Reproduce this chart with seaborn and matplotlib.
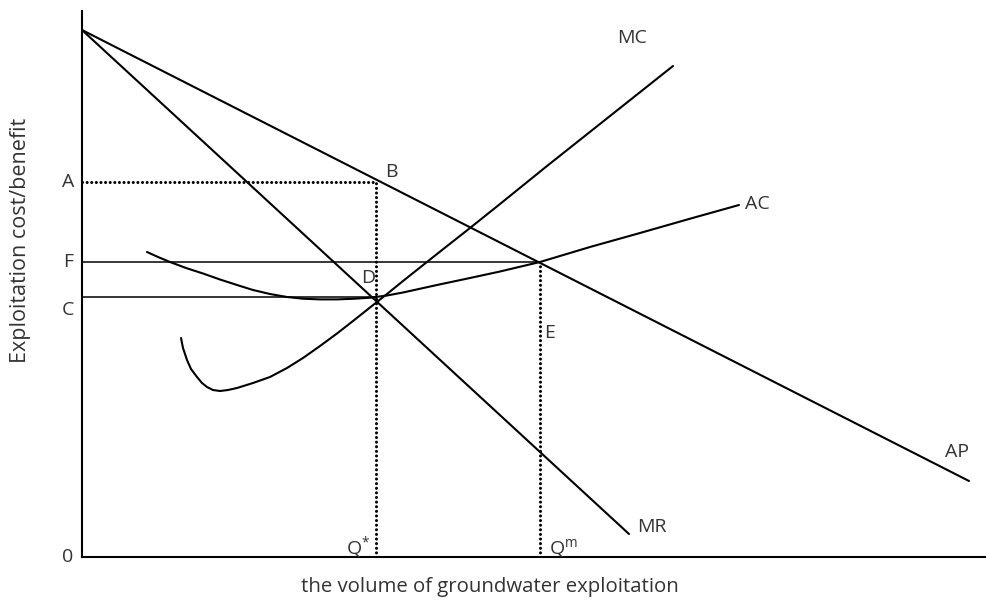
import matplotlib
matplotlib.use("Agg")
import matplotlib.pyplot as plt
import seaborn as sns

sns.set_style("white")
plt.rcParams["font.family"] = ["Open Sans", "DejaVu Sans"]
plt.rcParams["mathtext.fontset"] = "custom"
plt.rcParams["mathtext.rm"] = "Open Sans"
plt.rcParams["mathtext.it"] = "Open Sans"

TEXT_COLOR = "#333333"

# straight curves (quantity, cost/benefit)
ap_x = [0, 887]
ap_y = [527, 76]
mr_x = [0, 547]
mr_y = [527, 23]

# marginal cost curve
mc_x = [99, 101, 105, 109, 115, 120, 125, 131, 138, 146, 155, 171, 188, 205, 221, 238,
        255, 271, 288, 305, 321, 355, 388, 418, 465, 528, 591]
mc_y = [219, 209, 197, 188, 180, 174, 170, 167, 166, 167, 169, 174, 180, 189, 199, 211,
        223.5, 236, 249.5, 263, 276, 303, 329, 353, 391, 441, 491]

# average cost curve
ac_x = [65, 76, 88, 104, 121, 138, 155, 171, 188, 205, 221, 238, 255, 271, 288, 305,
        321, 355, 388, 418, 458, 508, 558, 607, 657]
ac_y = [305, 300, 295, 289, 283.5, 277.5, 272, 267, 263, 260, 258.3, 257.6, 257.6, 258.2, 259.3, 261.5,
        264.5, 272, 279, 285.5, 295, 310, 324, 338, 352]

# reference levels
level_a = 375
level_f = 295
level_c = 260
q_star = 294
q_m = 458

label_names = ["A", "F", "C", "0"]
label_y = [level_a, level_f, level_c - 13, 0]

fig, ax = plt.subplots(figsize=(9.87, 6.01), dpi=100)
ax.set_position([82 / 987, 44 / 601, 905 / 987, 546 / 601])

line_kw = dict(color="black", linewidth=1.5)
sns.lineplot(x=ap_x, y=ap_y, ax=ax, **line_kw)
sns.lineplot(x=mr_x, y=mr_y, ax=ax, **line_kw)
sns.lineplot(x=mc_x, y=mc_y, ax=ax, sort=False, **line_kw)
sns.lineplot(x=ac_x, y=ac_y, ax=ax, sort=False, **line_kw)

ax.plot([0, q_m], [level_f, level_f], color="black", linewidth=1.1)
ax.plot([0, q_star], [level_c, level_c], color="black", linewidth=1.1)

dot_kw = dict(color="black", linewidth=2.2, linestyle=(0, (0.01, 1.5)), dash_capstyle="round")
ax.plot([0, q_star], [level_a, level_a], **dot_kw)
ax.plot([q_star, q_star], [0, level_a], **dot_kw)
ax.plot([q_m, q_m], [0, level_f], **dot_kw)

ax.set_xlim(0, 905)
ax.set_ylim(0, 546)
ax.set_xticks([])
ax.set_yticks([])
sns.despine(ax=ax)
for side in ["left", "bottom"]:
    ax.spines[side].set_color("black")
    ax.spines[side].set_linewidth(1.5)

fs = 14
for name, yv in zip(label_names, label_y):
    ax.text(-14, yv, name, ha="center", va="center", fontsize=fs, color=TEXT_COLOR, clip_on=False)

ax.text(309, 385, "B", ha="center", va="center", fontsize=fs, color=TEXT_COLOR)
ax.text(286, 279, "D", ha="center", va="center", fontsize=fs, color=TEXT_COLOR)
ax.text(468, 224, "E", ha="center", va="center", fontsize=fs, color=TEXT_COLOR)
ax.text(550, 519, "MC", ha="center", va="center", fontsize=fs, color=TEXT_COLOR)
ax.text(675, 353, "AC", ha="center", va="center", fontsize=fs, color=TEXT_COLOR)
ax.text(875, 105, "AP", ha="center", va="center", fontsize=fs, color=TEXT_COLOR)
ax.text(570, 30, "MR", ha="center", va="center", fontsize=fs, color=TEXT_COLOR)
ax.text(q_star - 6, 9, "Q$^{*}$", ha="right", va="center", fontsize=fs, color=TEXT_COLOR)
ax.text(q_m + 9, 9, "Q$^{\\mathrm{m}}$", ha="left", va="center", fontsize=fs, color=TEXT_COLOR)

ax.set_xlabel("the volume of groundwater exploitation", fontsize=14.7, color=TEXT_COLOR)
ax.xaxis.set_label_coords(408 / 905, -20 / 546)
ax.set_ylabel("Exploitation cost/benefit", fontsize=15.5, color=TEXT_COLOR)
ax.yaxis.set_label_coords(-51 / 905, 317 / 546)

fig.savefig("out.png", dpi=100)
